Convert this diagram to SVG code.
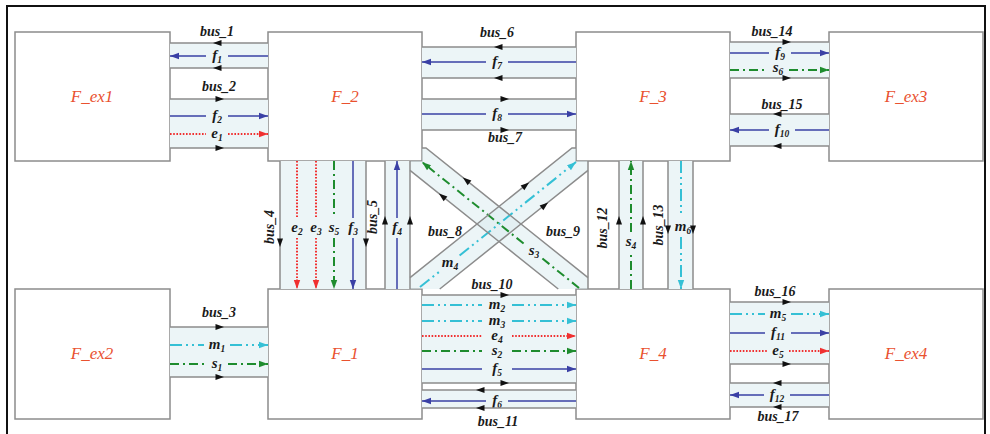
<svg xmlns="http://www.w3.org/2000/svg" width="990" height="434" viewBox="0 0 990 434">
<defs>
<style>
.node rect{fill:#fff;stroke:#8c8c8c;stroke-width:1.5}
.node text{font-family:"Liberation Serif",serif;font-style:italic;font-size:17px;fill:#e9512f;text-anchor:middle}
.band{fill:#ecf5f7;stroke:none}
.dband{fill:#d9ebef;fill-opacity:.5;stroke:none}
.bl{stroke:#8c8c8c;stroke-width:1.5;fill:none}
.f{stroke:#3a40a5;stroke-width:1.5;fill:none}
.e{stroke:#f03030;stroke-width:2;stroke-dasharray:1.6 1.6;fill:none}
.s{stroke:#1e8c2e;stroke-width:2;stroke-dasharray:9 4 2 4;fill:none}
.m{stroke:#35c0d5;stroke-width:2;stroke-dasharray:12 4 2 4 2 4;fill:none}
.bus{font-family:"Liberation Serif",serif;font-style:italic;font-weight:bold;font-size:14px;fill:#1a1a1a;text-anchor:middle}
.sig{font-family:"Liberation Serif",serif;font-style:italic;font-weight:bold;font-size:15px;fill:#1a1a1a;text-anchor:middle}
.sub{font-size:9.5px}
</style>
<marker id="aB" markerWidth="10" markerHeight="8" refX="9" refY="4" orient="auto" markerUnits="userSpaceOnUse"><path d="M0,0.8 L9,4 L0,7.2 z" fill="#3a40a5"/></marker>
<marker id="aR" markerWidth="10" markerHeight="8" refX="9" refY="4" orient="auto" markerUnits="userSpaceOnUse"><path d="M0,0.8 L9,4 L0,7.2 z" fill="#f03030"/></marker>
<marker id="aG" markerWidth="10" markerHeight="8" refX="9" refY="4" orient="auto" markerUnits="userSpaceOnUse"><path d="M0,0.8 L9,4 L0,7.2 z" fill="#1e8c2e"/></marker>
<marker id="aC" markerWidth="10" markerHeight="8" refX="9" refY="4" orient="auto" markerUnits="userSpaceOnUse"><path d="M0,0.8 L9,4 L0,7.2 z" fill="#35c0d5"/></marker>
<path id="ba" d="M-4.5,-3 L4,0 L-4.5,3 z" fill="#111"/>
</defs>

<rect x="7" y="6" width="978" height="440" fill="none" stroke="#111" stroke-width="2"/>

<g id="nodes">
<g id="F_ex1" class="node"><rect x="15" y="32" width="155" height="129"/><text x="92" y="102">F_ex1</text></g>
<g id="F_2" class="node"><rect x="268" y="32" width="154" height="129"/><text x="345" y="102">F_2</text></g>
<g id="F_3" class="node"><rect x="576" y="32" width="154" height="129"/><text x="653" y="102">F_3</text></g>
<g id="F_ex3" class="node"><rect x="829" y="32" width="154" height="129"/><text x="906" y="102">F_ex3</text></g>
<g id="F_ex2" class="node"><rect x="15" y="289" width="155" height="130"/><text x="92" y="359">F_ex2</text></g>
<g id="F_1" class="node"><rect x="268" y="289" width="154" height="130"/><text x="345" y="359">F_1</text></g>
<g id="F_4" class="node"><rect x="576" y="289" width="154" height="130"/><text x="653" y="359">F_4</text></g>
<g id="F_ex4" class="node"><rect x="829" y="289" width="154" height="130"/><text x="906" y="359">F_ex4</text></g>
</g>

<g id="connectors">
<!-- band fills -->
<rect class="band" x="170" y="43" width="98" height="25"/>
<rect class="band" x="170" y="99" width="98" height="49"/>
<rect class="band" x="422" y="47" width="154" height="31"/>
<rect class="band" x="422" y="99" width="154" height="31"/>
<rect class="band" x="730" y="42" width="99" height="36"/>
<rect class="band" x="730" y="114" width="99" height="32"/>
<rect class="band" x="170" y="327" width="98" height="50"/>
<rect class="band" x="422" y="295" width="154" height="88"/>
<rect class="band" x="422" y="390" width="154" height="18"/>
<rect class="band" x="730" y="302" width="99" height="62"/>
<rect class="band" x="730" y="383" width="99" height="24"/>
<rect class="band" x="280" y="161" width="86" height="128"/>
<rect class="band" x="385" y="161" width="25" height="128"/>
<rect class="band" x="619" y="161" width="24" height="128"/>
<rect class="band" x="668" y="161" width="25" height="128"/>
<polygon class="dband" points="410,161 422,161 422,148 426,148 588,277.6 588,289 558.25,289 410,170.4"/>
<polygon class="dband" points="588,161 576,161 576,148 572,148 410,277.6 410,289 439.75,289 588,170.4"/>

<!-- signal lines (broken around labels) -->
<path class="f" d="M268,56H228"/><path class="f" d="M206,56H170" marker-end="url(#aB)"/>
<path class="f" d="M170,116H206"/><path class="f" d="M228,116H268" marker-end="url(#aB)"/>
<path class="e" d="M170,134H206"/><path class="e" d="M228,134H268" marker-end="url(#aR)"/>
<path class="f" d="M576,62H508"/><path class="f" d="M486,62H422" marker-end="url(#aB)"/>
<path class="f" d="M422,114H486"/><path class="f" d="M508,114H576" marker-end="url(#aB)"/>
<path class="f" d="M730,53H769"/><path class="f" d="M791,53H829" marker-end="url(#aB)"/>
<path class="s" d="M730,70H767"/><path class="s" d="M789,70H829" marker-end="url(#aG)"/>
<path class="f" d="M829,130H795"/><path class="f" d="M769,130H730" marker-end="url(#aB)"/>
<path class="m" d="M170,345H204"/><path class="m" d="M230,345H268" marker-end="url(#aC)"/>
<path class="s" d="M170,364H206"/><path class="s" d="M228,364H268" marker-end="url(#aG)"/>
<path class="m" d="M422,305H482"/><path class="m" d="M512,305H576" marker-end="url(#aC)"/>
<path class="m" d="M422,321H482"/><path class="m" d="M512,321H576" marker-end="url(#aC)"/>
<path class="e" d="M422,336H482"/><path class="e" d="M512,336H576" marker-end="url(#aR)"/>
<path class="s" d="M422,351H482"/><path class="s" d="M512,351H576" marker-end="url(#aG)"/>
<path class="f" d="M422,369H482"/><path class="f" d="M512,369H576" marker-end="url(#aB)"/>
<path class="f" d="M576,401H508"/><path class="f" d="M486,401H422" marker-end="url(#aB)"/>
<path class="m" d="M730,314H765"/><path class="m" d="M791,314H829" marker-end="url(#aC)"/>
<path class="f" d="M730,333H765"/><path class="f" d="M791,333H829" marker-end="url(#aB)"/>
<path class="e" d="M730,351H767"/><path class="e" d="M789,351H829" marker-end="url(#aR)"/>
<path class="f" d="M829,395H790"/><path class="f" d="M764,395H730" marker-end="url(#aB)"/>
<path class="e" d="M297,161V218"/><path class="e" d="M297,238V289" marker-end="url(#aR)"/>
<path class="e" d="M316,161V218"/><path class="e" d="M316,238V289" marker-end="url(#aR)"/>
<path class="s" d="M334,161V218"/><path class="s" d="M334,238V289" marker-end="url(#aG)"/>
<path class="f" d="M353,161V218"/><path class="f" d="M353,238V289" marker-end="url(#aB)"/>
<path class="f" d="M397,289V238"/><path class="f" d="M397,218V161" marker-end="url(#aB)"/>
<path class="s" d="M631,289V253"/><path class="s" d="M631,232V161" marker-end="url(#aG)"/>
<path class="m" d="M681,161V217"/><path class="m" d="M681,237V289" marker-end="url(#aC)"/>
<path class="s" d="M579,288L542.4,258.5"/><path class="s" d="M523.6,243.5L422,162" marker-end="url(#aG)"/>
<path class="m" d="M420,287L440.9,270.5"/><path class="m" d="M459.6,255.5L576,162" marker-end="url(#aC)"/>

<!-- signal labels -->
<text class="sig" x="217" y="60">f<tspan class="sub" dy="3">1</tspan></text>
<text class="sig" x="217" y="120">f<tspan class="sub" dy="3">2</tspan></text>
<text class="sig" x="217" y="138">e<tspan class="sub" dy="3">1</tspan></text>
<text class="sig" x="497" y="66">f<tspan class="sub" dy="3">7</tspan></text>
<text class="sig" x="497" y="118">f<tspan class="sub" dy="3">8</tspan></text>
<text class="sig" x="780" y="57">f<tspan class="sub" dy="3">9</tspan></text>
<text class="sig" x="778" y="72">s<tspan class="sub" dy="3">6</tspan></text>
<text class="sig" x="782" y="134">f<tspan class="sub" dy="3">10</tspan></text>
<text class="sig" x="217" y="349">m<tspan class="sub" dy="3">1</tspan></text>
<text class="sig" x="217" y="368">s<tspan class="sub" dy="3">1</tspan></text>
<text class="sig" x="497" y="309">m<tspan class="sub" dy="3">2</tspan></text>
<text class="sig" x="497" y="325">m<tspan class="sub" dy="3">3</tspan></text>
<text class="sig" x="497" y="340">e<tspan class="sub" dy="3">4</tspan></text>
<text class="sig" x="497" y="355">s<tspan class="sub" dy="3">2</tspan></text>
<text class="sig" x="497" y="373">f<tspan class="sub" dy="3">5</tspan></text>
<text class="sig" x="497" y="405">f<tspan class="sub" dy="3">6</tspan></text>
<text class="sig" x="778" y="318">m<tspan class="sub" dy="3">5</tspan></text>
<text class="sig" x="778" y="337">f<tspan class="sub" dy="3">11</tspan></text>
<text class="sig" x="778" y="355">e<tspan class="sub" dy="3">5</tspan></text>
<text class="sig" x="777" y="399">f<tspan class="sub" dy="3">12</tspan></text>
<text class="sig" x="297" y="232">e<tspan class="sub" dy="3">2</tspan></text>
<text class="sig" x="316" y="232">e<tspan class="sub" dy="3">3</tspan></text>
<text class="sig" x="334" y="232">s<tspan class="sub" dy="3">5</tspan></text>
<text class="sig" x="353" y="232">f<tspan class="sub" dy="3">3</tspan></text>
<text class="sig" x="397" y="232">f<tspan class="sub" dy="3">4</tspan></text>
<text class="sig" x="631" y="246">s<tspan class="sub" dy="3">4</tspan></text>
<text class="sig" x="683" y="231">m<tspan class="sub" dy="3">6</tspan></text>
<text class="sig" x="534" y="255">s<tspan class="sub" dy="3">3</tspan></text>
<text class="sig" x="450" y="267">m<tspan class="sub" dy="3">4</tspan></text>

<!-- bus border lines -->
<path class="bl" d="M170,43H268M170,68H268M170,99H268M170,148H268"/>
<path class="bl" d="M422,47H576M422,78H576M422,99H576M422,130H576"/>
<path class="bl" d="M730,42H829M730,78H829M730,114H829M730,146H829"/>
<path class="bl" d="M170,327H268M170,377H268"/>
<path class="bl" d="M422,295H576M422,383H576M422,390H576M422,408H576"/>
<path class="bl" d="M730,302H829M730,364H829M730,383H829M730,407H829"/>
<path class="bl" d="M280,161V289M366,161V289M385,161V289M410,161V289"/>
<path class="bl" d="M619,161V289M643,161V289M668,161V289M693,161V289M588,161V289"/>
<path class="bl" d="M422,148H426L588,277.6M410,170.4L558.25,289"/>
<path class="bl" d="M576,148H572L410,277.6M588,170.4L439.75,289"/>

<!-- bus direction arrows -->
<use href="#ba" transform="translate(217,43) rotate(180)"/>
<use href="#ba" transform="translate(217,68) rotate(180)"/>
<use href="#ba" transform="translate(220,99)"/>
<use href="#ba" transform="translate(220,148)"/>
<use href="#ba" transform="translate(498,47) rotate(180)"/>
<use href="#ba" transform="translate(498,78) rotate(180)"/>
<use href="#ba" transform="translate(505,99)"/>
<use href="#ba" transform="translate(505,130)"/>
<use href="#ba" transform="translate(787,42)"/>
<use href="#ba" transform="translate(787,78)"/>
<use href="#ba" transform="translate(777,114) rotate(180)"/>
<use href="#ba" transform="translate(777,146) rotate(180)"/>
<use href="#ba" transform="translate(220,327)"/>
<use href="#ba" transform="translate(220,377)"/>
<use href="#ba" transform="translate(505,295)"/>
<use href="#ba" transform="translate(505,383)"/>
<use href="#ba" transform="translate(480,390) rotate(180)"/>
<use href="#ba" transform="translate(480,408) rotate(180)"/>
<use href="#ba" transform="translate(787,302)"/>
<use href="#ba" transform="translate(787,364)"/>
<use href="#ba" transform="translate(777,383) rotate(180)"/>
<use href="#ba" transform="translate(777,407) rotate(180)"/>
<use href="#ba" transform="translate(280,243) rotate(90)"/>
<use href="#ba" transform="translate(366,243) rotate(90)"/>
<use href="#ba" transform="translate(385,220) rotate(-90)"/>
<use href="#ba" transform="translate(410,220) rotate(-90)"/>
<use href="#ba" transform="translate(619,220) rotate(-90)"/>
<use href="#ba" transform="translate(643,220) rotate(-90)"/>
<use href="#ba" transform="translate(668,230) rotate(90)"/>
<use href="#ba" transform="translate(693,230) rotate(90)"/>
<use href="#ba" transform="translate(466,180) rotate(-141.3)"/>
<use href="#ba" transform="translate(442,196) rotate(-141.3)"/>
<use href="#ba" transform="translate(526,185) rotate(-38.7)"/>
<use href="#ba" transform="translate(545,205) rotate(-38.7)"/>

<!-- bus labels -->
<text class="bus" x="217" y="36">bus_1</text>
<text class="bus" x="219" y="91">bus_2</text>
<text class="bus" x="219" y="317">bus_3</text>
<text class="bus" x="497" y="37">bus_6</text>
<text class="bus" x="505" y="142">bus_7</text>
<text class="bus" x="772" y="36">bus_14</text>
<text class="bus" x="782" y="109">bus_15</text>
<text class="bus" x="492" y="289">bus_10</text>
<text class="bus" x="498" y="426">bus_11</text>
<text class="bus" x="775" y="296">bus_16</text>
<text class="bus" x="778" y="421">bus_17</text>
<text class="bus" x="445" y="236">bus_8</text>
<text class="bus" x="563" y="236">bus_9</text>
<text class="bus" transform="translate(274,227) rotate(-90)">bus_4</text>
<text class="bus" transform="translate(377,217) rotate(-90)">bus_5</text>
<text class="bus" transform="translate(607,228) rotate(-90)">bus_12</text>
<text class="bus" transform="translate(663,225) rotate(-90)">bus_13</text>
</g>
</svg>
